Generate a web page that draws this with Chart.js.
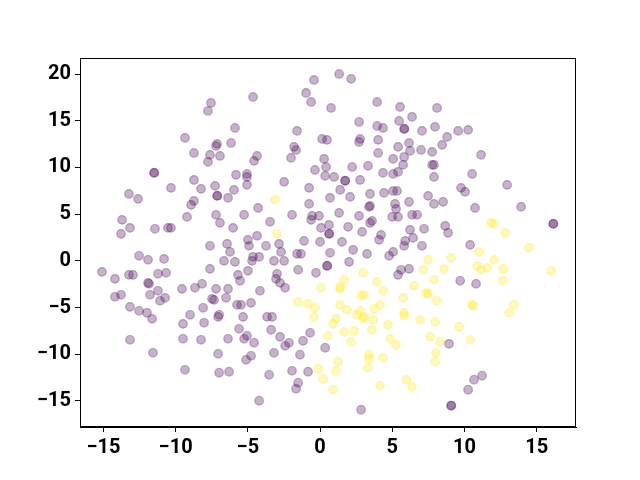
<!DOCTYPE html>
<html>
<head>
<meta charset="utf-8">
<script src="https://cdn.jsdelivr.net/npm/chart.js@4/dist/chart.umd.min.js"></script>
<style>
  html, body { margin:0; padding:0; background:#fff; }
  #wrap { width:640px; height:480px; }
</style>
</head>
<body>
<div id="wrap"><canvas id="c" width="640" height="480"></canvas></div>
<script>
// class 0 (purple) points
const purpleX = [-9.35,-8.73,-11.50,-11.47,-8.73,-0.42,-0.97,-0.62,-4.64,-7.55,-7.76,0.76,-5.89,-1.59,0.14,0.48,-7.13,-7.20,-6.16,-1.80,
  -1.66,-6.93,-7.62,-7.76,-4.36,-4.57,-2.01,0.28,0.42,-0.35,-5.82,-5.06,-5.06,-2.49,0.35,1.32,2.15,3.95,5.54,8.10,
  5.47,6.37,2.70,3.95,4.36,5.82,5.84,7.06,7.96,8.80,2.77,2.70,4.02,5.40,6.16,6.23,6.99,7.76,8.45,4.02,
  5.06,5.82,5.75,7.76,7.89,3.32,2.22,4.36,5.06,5.40,7.89,0.97,1.73,1.75,2.77,9.56,10.25,11.15,10.53,12.95,
  -10.32,-13.23,-12.60,-8.24,-8.73,-8.93,-9.21,-13.71,-13.16,-13.78,-11.43,-10.53,-10.32,-12.53,-11.91,-10.80,-15.10,-14.20,-13.23,-12.95,
  -11.91,-11.84,-11.22,-10.66,-9.56,-8.66,-8.17,-14.20,-13.78,-11.77,-11.22,-10.73,-11.08,-13.16,-7.27,-5.06,-0.76,-7.13,-7.11,-6.37,
  -5.96,-0.76,-4.29,-7.20,-6.93,-5.26,-6.02,-3.46,-1.94,-0.55,-0.62,-0.07,0.07,-4.36,-4.99,-4.92,-7.62,-6.44,-6.23,-3.74,
  -2.84,-2.70,-1.11,0.00,-1.59,-1.32,0.62,0.64,-4.64,-4.71,-4.22,-6.65,-5.89,-3.19,-2.49,-7.62,-4.99,-5.68,-5.54,-2.98,
  -3.05,-2.77,-2.42,-1.52,-0.28,0.48,0.50,-7.20,-6.37,-4.16,-7.48,-7.34,-6.51,-5.75,-5.47,-4.78,1.39,2.08,3.46,4.43,
  5.06,5.33,6.16,7.48,7.89,8.52,0.69,3.46,3.39,5.19,5.26,1.32,2.70,4.99,5.40,6.37,6.72,0.62,1.94,3.60,
  3.46,2.91,6.23,7.20,8.66,8.86,4.22,4.09,5.89,5.82,6.44,7.06,1.52,2.29,3.25,0.69,4.78,5.06,2.01,5.61,
  5.40,6.16,9.76,10.04,10.73,13.92,16.14,16.16,10.39,9.70,10.80,-12.53,-11.98,-11.63,-9.00,-9.49,-8.10,-8.03,-13.16,-9.49,
  -8.24,-11.57,-9.35,-6.99,-7.06,-5.33,-3.67,-3.32,-5.61,-3.39,-6.37,-5.06,-5.26,-4.57,-2.77,-2.15,-2.42,-1.18,-0.69,-7.06,
  -4.78,-5.12,-3.19,-1.39,-6.99,-6.30,-3.53,-1.94,-0.83,-1.52,-1.66,-4.22,0.35,8.93,2.84,9.07,9.09,11.22,10.66,10.25];
const purpleY = [13.17,11.56,9.42,9.44,8.67,19.38,17.99,17.02,17.56,16.92,16.06,16.38,14.24,13.92,13.06,12.96,12.53,12.31,12.63,12.21,
  11.88,11.24,11.35,10.60,11.24,10.71,11.03,10.92,10.06,9.74,9.21,9.31,8.99,8.46,9.10,20.02,19.49,17.02,16.49,16.38,
  14.99,15.42,14.88,14.45,14.24,14.13,14.15,13.92,14.35,13.28,13.06,12.74,12.96,12.21,12.63,11.78,11.88,11.67,12.42,11.56,
  10.92,11.13,10.28,10.28,10.28,10.17,10.06,9.42,9.31,9.53,8.99,8.99,8.57,8.59,8.67,13.92,14.03,11.35,9.31,8.14,
  7.82,7.17,6.64,7.71,6.42,6.00,4.71,4.39,3.53,2.89,3.43,3.53,3.53,0.54,0.11,0.21,-1.18,-1.93,-1.50,-1.50,
  -2.36,-2.46,-1.39,-1.28,-3.00,-2.89,-2.46,-3.85,-3.64,-3.64,-3.21,-3.96,-4.28,-4.93,8.03,8.14,7.82,6.96,6.98,6.75,
  7.60,6.10,5.67,4.93,4.07,4.93,3.53,4.18,4.93,4.82,4.39,4.82,3.53,2.68,2.25,1.61,1.61,1.82,0.96,1.61,
  1.82,0.96,2.14,2.03,0.75,0.75,2.89,2.91,0.43,0.00,0.43,0.00,-0.11,0.00,0.00,-0.86,-1.07,-1.50,-2.14,-1.39,
  -1.93,-2.36,-2.89,-0.96,-1.28,-0.54,-0.52,-3.00,-3.00,-3.21,-4.07,-4.18,-3.96,-4.71,-4.71,-4.50,7.60,6.85,7.17,7.28,
  7.49,7.49,6.32,6.96,6.10,6.32,6.75,5.89,5.78,6.10,5.57,5.14,4.82,4.71,4.71,4.93,4.93,3.85,3.64,4.28,
  4.07,3.10,3.32,3.43,3.75,3.00,2.78,2.25,2.14,1.61,2.46,1.61,2.03,1.18,0.75,0.86,0.54,0.96,-0.11,-0.96,
  -1.50,-0.86,7.82,7.39,5.67,5.78,3.96,3.98,1.71,-2.14,-2.46,-5.35,-5.57,-6.21,-5.78,-6.75,-5.03,-6.64,-8.46,-8.35,
  -8.46,-9.85,-11.67,-5.78,-6.00,-6.00,-6.00,-6.00,-7.28,-7.39,-8.35,-8.03,-8.35,-8.78,-8.14,-8.78,-9.10,-8.57,-7.71,-9.96,
  -10.17,-10.60,-9.85,-10.06,-11.99,-11.88,-12.21,-11.78,-11.88,-13.06,-13.70,-14.99,-9.31,-8.89,-15.95,-15.52,-15.50,-12.31,-12.74,-13.81];

// class 1 (yellow) points
const yellowX = [-3.12,-2.98,0.07,-1.52,-0.83,7.48,9.07,2.98,7.13,8.59,1.66,3.95,7.89,1.39,1.39,6.51,4.36,3.05,2.84,7.34,
  7.48,5.75,8.10,1.39,4.16,11.84,12.05,12.81,11.01,14.47,12.05,10.87,11.15,11.57,12.67,16.00,12.67,10.53,10.60,13.43,
  13.09,9.63,10.39,-0.35,-0.42,0.55,-0.14,0.21,1.87,2.77,2.56,3.05,2.98,3.74,5.82,5.82,1.11,0.90,3.67,4.71,
  6.93,7.96,1.66,2.35,3.60,2.15,4.85,5.26,7.62,8.31,8.03,7.96,3.39,3.39,4.36,3.32,1.25,1.11,0.90,4.16,
  5.96,6.37];
const yellowY = [6.53,2.89,-2.89,-4.39,-4.60,0.11,0.32,-1.28,-0.96,-0.86,-2.03,-2.25,-2.03,-3.00,-2.78,-2.68,-3.21,-3.64,-3.75,-3.43,
  -3.53,-3.96,-4.28,-4.71,-4.71,4.07,3.96,3.00,0.96,1.39,0.11,-0.54,-0.96,-0.75,-0.86,-1.07,-2.14,-4.71,-4.82,-4.71,
  -5.57,-7.07,-8.46,-5.03,-6.00,-8.03,-11.56,-12.63,-5.25,-5.35,-5.78,-6.00,-6.21,-5.14,-5.57,-5.89,-6.21,-6.75,-6.32,-6.85,
  -6.32,-6.53,-7.60,-7.49,-7.39,-8.67,-8.35,-8.99,-8.14,-8.67,-9.85,-10.81,-10.06,-10.49,-10.39,-11.46,-10.81,-11.78,-13.81,-13.38,
  -12.74,-13.49];

const xTicks = [-15,-10,-5,0,5,10,15];
const yTicks = [-15,-10,-5,0,5,10,15,20];

const toPts = (xs, ys) => xs.map((x,i)=>({x:x, y:ys[i]}));

const frame = {
  id:'frame',
  afterDraw(chart){
    const a = chart.chartArea, ctx = chart.ctx;
    ctx.save();
    ctx.strokeStyle = '#000';
    ctx.lineWidth = 1;
    ctx.strokeRect(a.left+0.5, a.top+0.5, a.right-a.left-1, a.bottom-a.top-1);
    ctx.restore();
  }
};

const tickFont = { family:'Roboto', size:20, weight:'bold' };
const minus = v => String(v).replace('-', '\u2212');

new Chart(document.getElementById('c').getContext('2d'), {
  type:'scatter',
  data:{
    datasets:[
      { label:'0', data:toPts(purpleX, purpleY),
        backgroundColor:'rgba(68,1,84,0.3)', borderColor:'rgba(68,1,84,0.3)',
        pointRadius:4.3, borderWidth:1.2 },
      { label:'1', data:toPts(yellowX, yellowY),
        backgroundColor:'rgba(253,231,37,0.3)', borderColor:'rgba(253,231,37,0.3)',
        pointRadius:4.3, borderWidth:1.2 }
    ]
  },
  options:{
    responsive:false, animation:false,
    layout:{ padding:{ left:0, top:58, right:64, bottom:0 } },
    plugins:{ legend:{ display:false }, tooltip:{ enabled:false } },
    scales:{
      x:{
        type:'linear', min:-16.62, max:17.72,
        afterBuildTicks: s => { s.ticks = xTicks.map(v=>({value:v})); },
        afterFit: s => { s.height = 53; },
        grid:{ drawOnChartArea:false, drawTicks:true, tickLength:5, color:'#000' },
        border:{ color:'#000' },
        ticks:{ color:'#000', font:tickFont, padding:4, maxRotation:0, callback: v => minus(v) }
      },
      y:{
        type:'linear', min:-17.80, max:21.73,
        afterBuildTicks: s => { s.ticks = yTicks.map(v=>({value:v})); },
        afterFit: s => { s.width = 80; },
        grid:{ drawOnChartArea:false, drawTicks:true, tickLength:5, color:'#000' },
        border:{ color:'#000' },
        ticks:{ color:'#000', font:tickFont, padding:4, callback: v => minus(v) }
      }
    }
  },
  plugins:[frame]
});
</script>
</body>
</html>
